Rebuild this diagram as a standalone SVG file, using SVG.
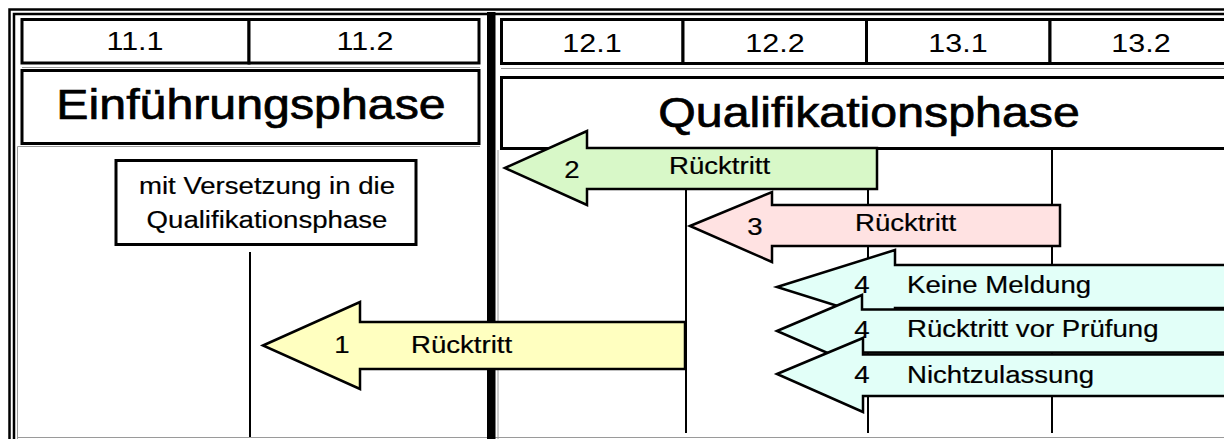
<svg xmlns="http://www.w3.org/2000/svg" width="1224" height="439" viewBox="0 0 1224 439">
<style>
text{font-family:"Liberation Sans",Arial,sans-serif;fill:#000}
.num{font-size:26.5px;text-anchor:middle}
.title{font-size:42px;text-anchor:middle;stroke:#000;stroke-width:0.7}
.lbl{font-size:24px;stroke:#000;stroke-width:0.2}
.mid{text-anchor:middle}
.cell{fill:#fff;stroke:#000;stroke-width:3}
.frame{fill:none;stroke:#000;stroke-width:2.5}
.grid{fill:none;stroke:#000;stroke-width:2}
.thin{fill:none;stroke:#9a9a9a;stroke-width:1}
.arr{stroke:#000;stroke-width:2.5;stroke-linejoin:miter}
.yel{fill:#FFFFC0}.grn{fill:#D8F8C8}.pnk{fill:#FFE2E2}.cyn{fill:#E2FFF8}
</style>
<rect width="1224" height="439" fill="#fff"/>
<g id="frame">
<path class="frame" d="M9.5,439V9.5H1224"/>
<path class="frame" d="M14,439V14H1224"/>
<path class="thin" d="M17.5,439V146.5H480"/>
<path class="thin" d="M22,67.5H480M501,68.5H1224"/>
<path class="thin" d="M17,437.5H1224"/>
<rect x="487" y="12" width="8.5" height="427" fill="#000"/>
<path class="thin" d="M498,150V439"/>
</g>
<g id="grid">
<path class="grid" d="M250,252V437"/>
<path class="grid" d="M686,149V433"/>
<path class="grid" d="M868,149V433"/>
<path class="grid" d="M1052,149V433"/>
</g>
<g id="cell-11-1"><rect class="cell" x="22" y="19.5" width="227" height="43.5"/><text class="num" transform="translate(135,50) scale(1.15,1)">11.1</text></g>
<g id="cell-11-2"><rect class="cell" x="249" y="19.5" width="230" height="43.5"/><text class="num" transform="translate(365,50) scale(1.15,1)">11.2</text></g>
<g id="cell-12-1"><rect class="cell" x="501.5" y="19.5" width="181.5" height="44"/><text class="num" transform="translate(592,51.5) scale(1.15,1)">12.1</text></g>
<g id="cell-12-2"><rect class="cell" x="683" y="19.5" width="183.5" height="44"/><text class="num" transform="translate(775,51.5) scale(1.15,1)">12.2</text></g>
<g id="cell-13-1"><rect class="cell" x="866.5" y="19.5" width="183.5" height="44"/><text class="num" transform="translate(958,51.5) scale(1.15,1)">13.1</text></g>
<g id="cell-13-2"><rect class="cell" x="1050" y="19.5" width="190" height="44"/><text class="num" transform="translate(1141,51.5) scale(1.15,1)">13.2</text></g>
<g id="einfuehrungsphase"><rect class="cell" x="22" y="70.5" width="457" height="73"/><text class="title" transform="translate(251,119) scale(1.15,1)">Einführungsphase</text></g>
<g id="qualifikationsphase"><rect class="cell" x="501.5" y="77.5" width="740" height="71"/><text class="title" transform="translate(869,127) scale(1.15,1)">Qualifikationsphase</text></g>
<g id="versetzung"><rect class="cell" x="116" y="160.5" width="300" height="84"/>
<text class="lbl mid" transform="translate(267,193.5) scale(1.15,1)">mit Versetzung in die</text>
<text class="lbl mid" transform="translate(267,227.5) scale(1.15,1)">Qualifikationsphase</text></g>
<g id="connectors">
<g id="arrow-1">
<polygon class="arr yel" points="263,345.5 360,302 360,322 685,322 685,369 360,369 360,389"/>
<text class="lbl mid" transform="translate(342,353) scale(1.15,1)">1</text>
<text class="lbl" transform="translate(411,353) scale(1.15,1)">Rücktritt</text>
</g>
<g id="arrow-2">
<polygon class="arr grn" points="505,168 587,131 587,148 877,148 877,189 587,189 587,205"/>
<text class="lbl mid" transform="translate(572,178) scale(1.15,1)">2</text>
<text class="lbl" transform="translate(669,174) scale(1.15,1)">Rücktritt</text>
</g>
<g id="arrow-3">
<polygon class="arr pnk" points="690,226 772,192 772,205 1060,205 1060,246 772,246 772,262"/>
<text class="lbl mid" transform="translate(755,235) scale(1.15,1)">3</text>
<text class="lbl" transform="translate(855,231) scale(1.15,1)">Rücktritt</text>
</g>
<g id="arrow-4a">
<polygon class="arr cyn" points="777,287 895,250 895,265 1235,265 1235,308 895,308 895,324"/>
<text class="lbl mid" transform="translate(862,293) scale(1.15,1)">4</text>
<text class="lbl" transform="translate(907,293) scale(1.15,1)">Keine Meldung</text>
</g>
<g id="arrow-4b">
<polygon class="arr cyn" points="777,331 862,295 862,309.5 1235,309.5 1235,352.5 862,352.5 862,368"/>
<text class="lbl mid" transform="translate(862,338) scale(1.15,1)">4</text>
<text class="lbl" transform="translate(907,337) scale(1.15,1)">Rücktritt vor Prüfung</text>
</g>
<g id="arrow-4c">
<polygon class="arr cyn" points="777,374 863,338 863,354.5 1235,354.5 1235,396 863,396 863,412"/>
<text class="lbl mid" transform="translate(862,383) scale(1.15,1)">4</text>
<text class="lbl" transform="translate(907,383) scale(1.15,1)">Nichtzulassung</text>
</g>
</g>
</svg>
